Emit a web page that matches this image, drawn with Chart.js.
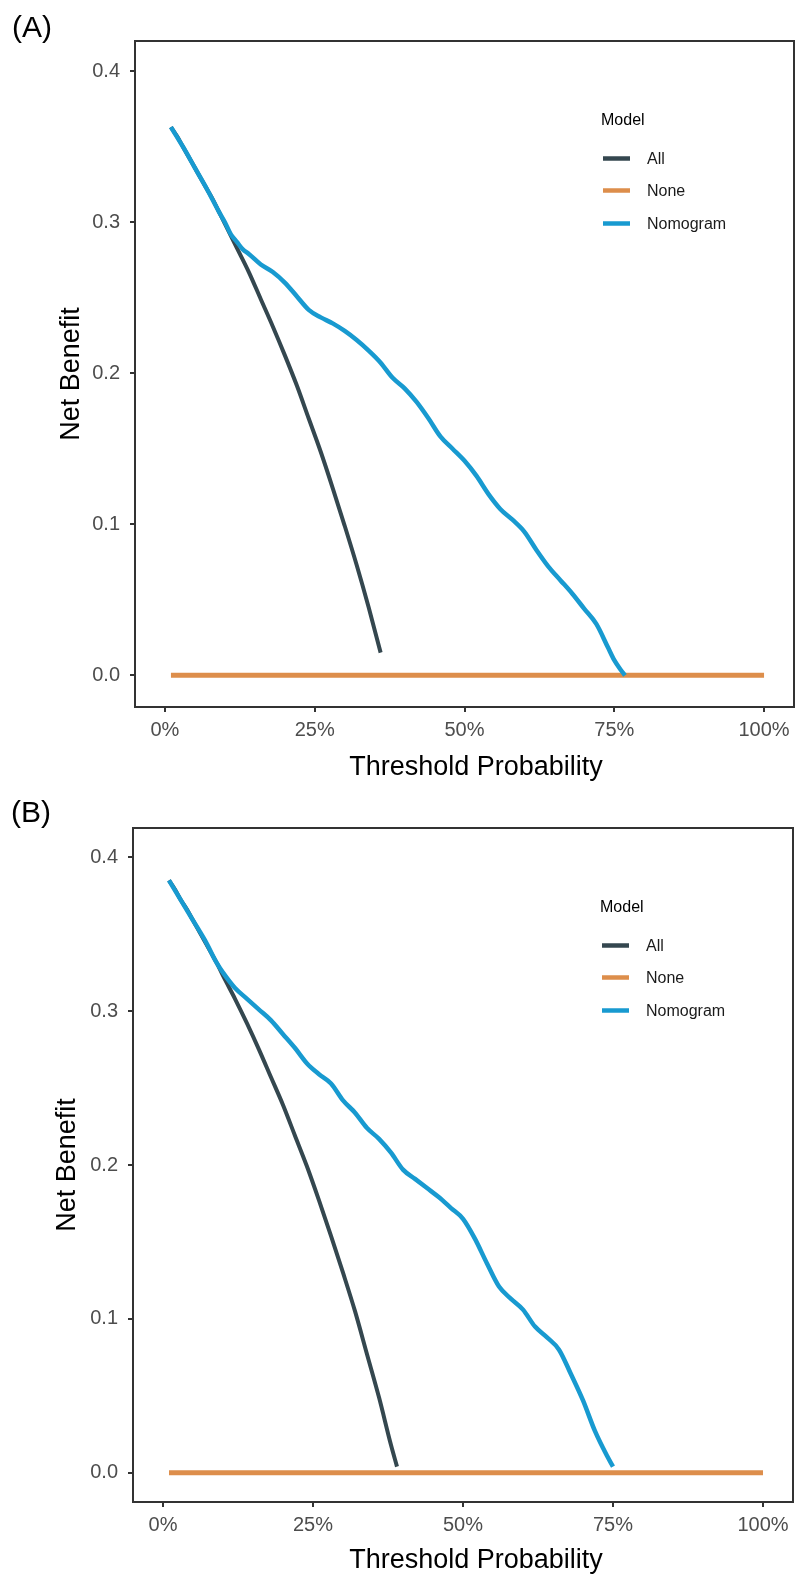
<!DOCTYPE html>
<html>
<head>
<meta charset="utf-8">
<script src="https://cdn.jsdelivr.net/npm/chart.js@4.4.1/dist/chart.umd.min.js"></script>
<style>
  html, body { margin: 0; padding: 0; background: #ffffff; }
  #wrap { position: relative; width: 798px; height: 1575px; overflow: hidden; background: #ffffff; }
  #wrap canvas { position: absolute; left: 0; }
</style>
</head>
<body>
<div id="wrap">
  <canvas id="panelA" width="798" height="790" style="top:0px"></canvas>
  <canvas id="panelB" width="798" height="785" style="top:790px"></canvas>
</div>
<script>
// ---- Decision curve data ----
const seriesNames = ['All', 'None', 'Nomogram'];
const seriesColors = ['#34474f', '#dd8e4b', '#189ad0'];

// Panel A: treat-all strategy
const thresholdA_all = [0.01, 0.02, 0.03, 0.04, 0.05, 0.06, 0.07, 0.08, 0.09, 0.10,
  0.12, 0.14, 0.16, 0.18, 0.20, 0.22, 0.24, 0.26, 0.28, 0.30, 0.32, 0.34, 0.36];
const netBenefitA_all = [0.363, 0.357, 0.350, 0.343, 0.336, 0.329, 0.322, 0.315, 0.307, 0.299,
  0.283, 0.267, 0.249, 0.231, 0.212, 0.192, 0.170, 0.148, 0.124, 0.099, 0.073, 0.045, 0.015];

// Panel A: nomogram
const thresholdA_nomogram = [0.01, 0.03, 0.05, 0.07, 0.09, 0.10, 0.11, 0.12, 0.13,
  0.14, 0.16, 0.18, 0.20, 0.22, 0.24, 0.26, 0.28, 0.30, 0.32, 0.34, 0.36, 0.38, 0.40,
  0.42, 0.44, 0.46, 0.48, 0.50, 0.52, 0.54, 0.56, 0.58, 0.60, 0.62, 0.64, 0.66, 0.68,
  0.70, 0.72, 0.74, 0.75, 0.76, 0.768];
const netBenefitA_nomogram = [0.363, 0.350, 0.336, 0.322, 0.307, 0.300, 0.292, 0.287, 0.282,
  0.279, 0.272, 0.267, 0.260, 0.251, 0.242, 0.237, 0.233, 0.228, 0.222, 0.215, 0.207, 0.197, 0.190,
  0.181, 0.170, 0.158, 0.150, 0.142, 0.132, 0.120, 0.110, 0.103, 0.095, 0.083, 0.072, 0.063, 0.054,
  0.044, 0.034, 0.018, 0.010, 0.004, 0.000];

// Panel B: treat-all strategy
const thresholdB_all = [0.01, 0.02, 0.03, 0.04, 0.05, 0.06, 0.07, 0.08, 0.09, 0.10,
  0.12, 0.14, 0.16, 0.18, 0.20, 0.22, 0.24, 0.26, 0.28, 0.30, 0.32, 0.34, 0.36, 0.38, 0.39];
const netBenefitB_all = [0.385, 0.379, 0.372, 0.366, 0.359, 0.352, 0.345, 0.338, 0.331, 0.323,
  0.308, 0.292, 0.275, 0.257, 0.239, 0.219, 0.199, 0.177, 0.154, 0.130, 0.105, 0.077, 0.049, 0.018, 0.004];

// Panel B: nomogram
const thresholdB_nomogram = [0.01, 0.03, 0.05, 0.07, 0.09, 0.10,
  0.12, 0.14, 0.16, 0.18, 0.20, 0.22, 0.24, 0.26, 0.28, 0.30, 0.32, 0.34, 0.36, 0.38, 0.40,
  0.42, 0.44, 0.46, 0.48, 0.50, 0.52, 0.54, 0.56, 0.58, 0.60, 0.62, 0.64, 0.66, 0.68,
  0.70, 0.72, 0.74, 0.75];
const netBenefitB_nomogram = [0.385, 0.372, 0.359, 0.346, 0.331, 0.325,
  0.315, 0.308, 0.301, 0.294, 0.285, 0.276, 0.266, 0.259, 0.253, 0.242, 0.234, 0.224, 0.217, 0.208, 0.197,
  0.191, 0.185, 0.179, 0.172, 0.165, 0.152, 0.136, 0.121, 0.113, 0.106, 0.095, 0.088, 0.080, 0.064,
  0.047, 0.027, 0.011, 0.004];

// Treat-none strategy (same in both panels)
const thresholdNone = [0.01, 1.00];
const netBenefitNone = [0, 0];

// Axis ticks and titles
const xTickValues = [0, 0.25, 0.5, 0.75, 1];
const xTickLabels = ['0%', '25%', '50%', '75%', '100%'];
const yTickValues = [0, 0.1, 0.2, 0.3, 0.4];
const yTickLabels = ['0.0', '0.1', '0.2', '0.3', '0.4'];
const xTitle = 'Threshold Probability';
const yTitle = 'Net Benefit';
const legendTitle = 'Model';

const FONT = '"Liberation Sans", Arial, Helvetica, sans-serif';

function toPoints(xs, ys) {
  return xs.map((x, i) => ({ x: x, y: ys[i] }));
}

// Frame, axis titles, panel tag and legend
const panelDecor = {
  id: 'panelDecor',
  afterDraw(chart, args, o) {
    const ctx = chart.ctx;
    const a = chart.chartArea;
    ctx.save();
    // panel border
    ctx.strokeStyle = '#333333';
    ctx.lineWidth = 2;
    ctx.strokeRect(a.left, a.top, a.right - a.left, a.bottom - a.top);

    // axis titles
    ctx.fillStyle = '#000000';
    ctx.font = '27px ' + FONT;
    ctx.textAlign = 'center';
    ctx.textBaseline = 'alphabetic';
    ctx.fillText(xTitle, o.xTitleX, a.bottom + o.xTitleDy);
    ctx.save();
    ctx.translate(o.yTitleX, (a.top + a.bottom) / 2);
    ctx.rotate(-Math.PI / 2);
    ctx.fillText(yTitle, 0, 0);
    ctx.restore();

    // panel tag
    ctx.font = '30px ' + FONT;
    ctx.textAlign = 'left';
    ctx.fillText(o.tag, o.tagX, o.tagY);

    // legend
    const lx = a.right - 193;
    ctx.font = '16px ' + FONT;
    ctx.textBaseline = 'middle';
    ctx.fillStyle = '#000000';
    ctx.fillText(legendTitle, lx, a.top + 80);
    const rows = [117.5, 149.5, 182.5];
    chart.data.datasets.forEach((ds, i) => {
      const y = a.top + rows[i];
      ctx.strokeStyle = ds.borderColor;
      ctx.lineWidth = 4.5;
      ctx.lineCap = 'butt';
      ctx.beginPath();
      ctx.moveTo(lx + 2, y);
      ctx.lineTo(lx + 29, y);
      ctx.stroke();
      ctx.fillStyle = '#1a1a1a';
      ctx.fillText(ds.label, lx + 46, y + 1);
    });
    ctx.restore();
  }
};

function makePanel(canvasId, p) {
  const datasets = [
    { label: seriesNames[0], data: toPoints(p.allX, p.allY), borderColor: seriesColors[0], borderWidth: 4, order: 2 },
    { label: seriesNames[1], data: toPoints(thresholdNone, netBenefitNone), borderColor: seriesColors[1], borderWidth: 5, order: 1 },
    { label: seriesNames[2], data: toPoints(p.nomoX, p.nomoY), borderColor: seriesColors[2], borderWidth: 4.5, order: 0 }
  ];
  datasets.forEach(d => {
    d.pointRadius = 0;
    d.fill = false;
    d.cubicInterpolationMode = 'monotone';
    d.borderCapStyle = 'butt';
    d.borderJoinStyle = 'round';
  });

  const canvas = document.getElementById(canvasId);
  return new Chart(canvas, {
    type: 'line',
    data: { datasets: datasets },
    options: {
      responsive: false,
      animation: false,
      devicePixelRatio: 1,
      layout: { padding: { left: 0, top: p.boxTop, right: canvas.width - p.boxRight, bottom: 0 } },
      plugins: {
        legend: { display: false },
        tooltip: { enabled: false },
        panelDecor: p.decor
      },
      scales: {
        x: {
          type: 'linear',
          min: -0.05,
          max: 1.05,
          afterBuildTicks(scale) { scale.ticks = xTickValues.map(v => ({ value: v })); },
          afterFit(scale) { scale.height = canvas.height - p.boxBottom; },
          ticks: {
            callback: (v, i) => xTickLabels[i],
            color: '#4d4d4d',
            font: { size: 20, family: FONT },
            padding: 6,
            maxRotation: 0,
            autoSkip: false
          },
          grid: { drawOnChartArea: false, drawTicks: true, tickLength: 5, color: '#333333', lineWidth: 2 },
          border: { display: false }
        },
        y: {
          type: 'linear',
          min: p.yMin,
          max: p.yMax,
          afterBuildTicks(scale) { scale.ticks = yTickValues.map(v => ({ value: v })); },
          afterFit(scale) { scale.width = p.boxLeft; },
          ticks: {
            callback: (v, i) => yTickLabels[i],
            color: '#4d4d4d',
            font: { size: 20, family: FONT },
            padding: 10,
            autoSkip: false
          },
          grid: { drawOnChartArea: false, drawTicks: true, tickLength: 5, color: '#333333', lineWidth: 2 },
          border: { display: false }
        }
      }
    },
    plugins: [panelDecor]
  });
}

makePanel('panelA', {
  allX: thresholdA_all, allY: netBenefitA_all,
  nomoX: thresholdA_nomogram, nomoY: netBenefitA_nomogram,
  boxLeft: 135, boxTop: 41, boxRight: 794, boxBottom: 707,
  yMin: -0.021, yMax: 0.42,
  decor: { tag: '(A)', tagX: 12, tagY: 37, xTitleX: 476, xTitleDy: 68, yTitleX: 79 }
});

makePanel('panelB', {
  allX: thresholdB_all, allY: netBenefitB_all,
  nomoX: thresholdB_nomogram, nomoY: netBenefitB_nomogram,
  boxLeft: 133, boxTop: 38, boxRight: 793, boxBottom: 712,
  yMin: -0.019, yMax: 0.419,
  decor: { tag: '(B)', tagX: 11, tagY: 32, xTitleX: 476, xTitleDy: 66, yTitleX: 75 }
});
</script>
</body>
</html>
